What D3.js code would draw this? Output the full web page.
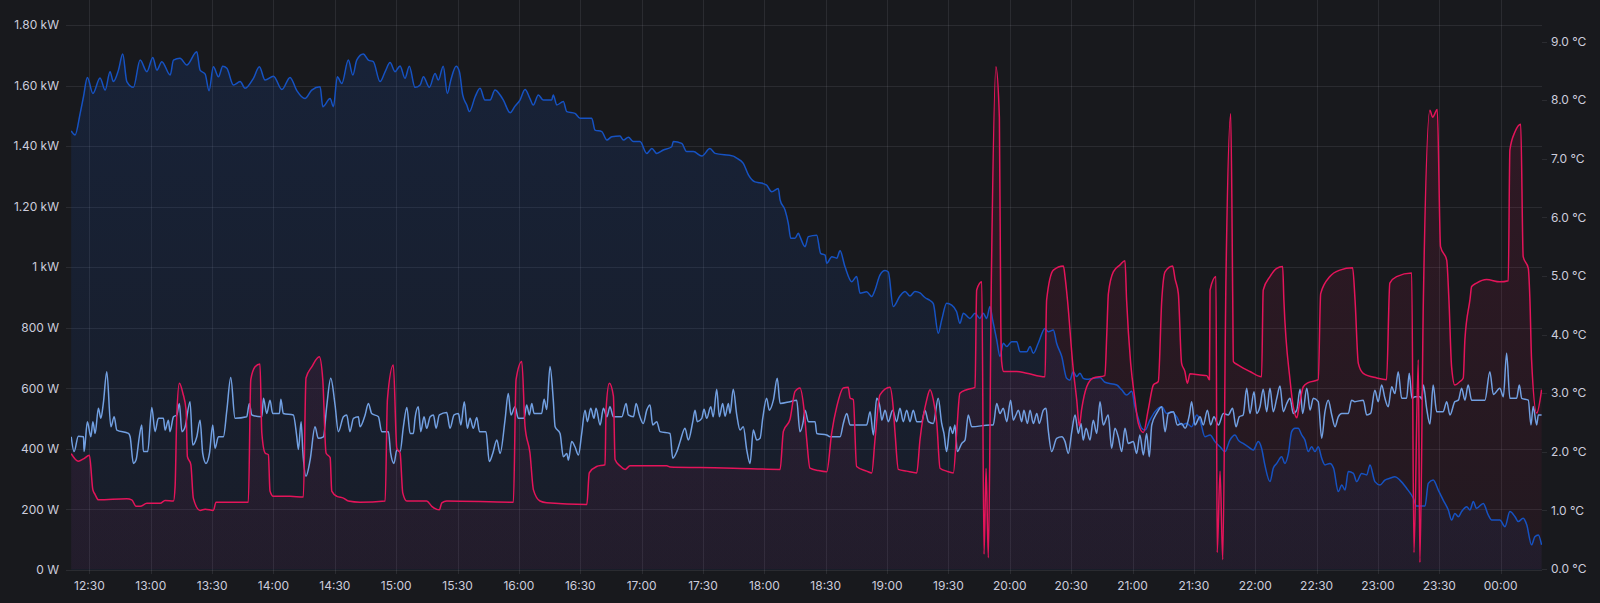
<!DOCTYPE html>
<html><head><meta charset="utf-8">
<script src="https://cdn.jsdelivr.net/npm/d3@7"></script>
<style>
html,body{margin:0;padding:0;background:#18191d;overflow:hidden;}
svg{display:block;}
text{font-family:Inter,"Noto Sans",sans-serif;}
</style></head><body>
<svg id="chart" width="1600" height="603"></svg>
<script>
// ---- data (time = minutes after 12:00) ----
const timeDomainMinutes = [21.0, 740.2];
const powerTicks = [0,200,400,600,800,1000,1200,1400,1600,1800];
const powerTickLabels = ["0 W","200 W","400 W","600 W","800 W","1 kW","1.20 kW","1.40 kW","1.60 kW","1.80 kW"];
const tempTicks = [0,1,2,3,4,5,6,7,8,9];
const tempTickLabels = ["0.0 °C","1.0 °C","2.0 °C","3.0 °C","4.0 °C","5.0 °C","6.0 °C","7.0 °C","8.0 °C","9.0 °C"];

// dark blue: power (W)
const powerA = [[21.1,1450],[23,1437],[25.5,1509],[27.1,1563],[29,1627],[31.7,1574],[35.2,1625],[37.7,1585],[40.1,1646],[41.7,1613],[44.2,1651],[46.3,1704],[48.3,1613],[51.5,1594],[54.8,1684],[58.1,1646],[61,1693],[63,1651],[65.4,1679],[69.5,1635],[71.1,1684],[74.3,1690],[77.6,1668],[82.5,1712],[84.1,1651],[86.6,1638],[88.5,1583],[90.6,1662],[93.1,1629],[95.2,1664],[97.2,1657],[100.4,1602],[103.7,1613],[106.1,1591],[110.2,1624],[113.1,1662],[115.9,1618],[120,1631],[124.1,1587],[128.1,1627],[131.4,1583],[135.4,1557],[138.7,1585],[142.8,1596],[144.1,1530],[147.7,1557],[149.3,1530],[151.2,1629],[153.4,1607],[156.6,1684],[158.8,1635],[160.7,1684],[163.9,1704],[166.4,1684],[168.8,1679],[172.1,1613],[174.6,1646],[177,1676],[179.4,1646],[181.9,1665],[184.3,1624],[186.4,1664],[189.2,1594],[191.7,1602],[193.3,1629],[196.2,1594],[199,1640],[200.6,1618],[203,1664],[205,1574],[206.7,1618],[209.3,1664],[210.9,1646],[212.5,1569],[214.5,1536],[215.8,1514],[218.6,1563],[221,1591],[223.4,1552],[225.9,1552],[228.3,1585],[230.8,1569],[232.4,1552],[235.7,1510],[238.1,1532],[240.5,1552],[243,1587],[245.4,1557],[247,1536],[249.5,1569],[251.9,1552],[256,1552],[256.8,1569],[258.5,1536],[261.7,1547],[263.4,1514],[267.4,1508],[269.9,1492],[275.6,1492],[277.2,1453],[280.5,1448],[283,1420],[285.4,1431],[289.4,1433],[291.1,1420],[293.5,1429],[296,1415],[299.2,1415],[302.5,1376],[305,1392],[307.4,1376],[310.6,1387],[314.7,1398],[315.5,1415],[319.6,1409],[322,1382],[325.3,1382],[329.4,1367],[333.4,1392],[335.9,1376],[344.8,1367],[346.5,1360],[349.7,1343],[352.2,1305],[355.4,1282],[357.9,1279],[361.1,1271],[363.6,1249],[366.8,1260],[367.7,1222],[370.1,1189],[371.7,1145],[372.9,1096],[375,1096],[376.6,1112],[377.4,1101],[379.9,1068],[381.5,1101],[385.6,1106],[387.5,1046],[389.7,1040],[390.5,1013],[393,1035],[395.4,1030],[397,1054],[399.4,1002],[402.7,952],[405.1,969],[406.8,914],[410,919],[412.5,903],[414.1,925],[416.5,974],[419,989],[420.6,984],[423,870],[426.3,905],[428.8,920],[431.2,905],[433.6,920],[436.1,915],[438.5,900],[441,890],[442.6,880],[445,782],[446.7,826],[449.1,881],[451.6,875],[454,853],[455.6,815],[457.3,848],[460.5,831],[463,848],[465.4,831],[467,848],[468.7,831],[470.3,870],[471.6,826],[473.6,760],[475.2,705],[476.8,749],[478.5,738],[480.9,754],[483.4,754],[485,721],[488.3,721],[489.9,738],[491.5,716],[493.9,749],[497.2,798],[498.8,787],[501.3,793],[502.9,749],[505.4,705],[507.8,633],[509.4,627],[511,655],[512.7,639],[514.3,650],[515.9,633],[517.6,630],[520.8,633],[524.1,636],[526.5,620],[532.3,611],[534.7,595],[537.1,578],[539.6,590],[541.2,539],[542.8,501],[544.5,468],[546.1,462],[548.5,495],[551,523],[554.3,539],[556.7,517],[559.1,523],[561.6,506],[564,479],[566.5,485],[568.9,473],[571.4,512],[573,495],[575.4,440],[577.9,446],[580.3,424],[582.8,407],[585.2,391],[587.6,429],[590.1,446],[591.7,429],[594.1,418],[596.6,407],[599,396],[601.5,424],[603.1,402],[604.7,347],[607.2,292],[608.8,336],[610.5,352],[612.9,374],[614.5,352],[616.2,385],[617.8,457],[619.4,468],[621,468],[622.7,446],[624.3,429],[625.9,391],[627.6,407],[629.2,391],[630.8,407],[632.5,369],[634.1,347],[636.5,352],[638.3,336],[640.6,259],[642.3,281],[643.9,264],[645.5,325],[648,319],[649.6,292],[652,319],[654.5,314],[656.1,347],[658.5,292],[661,281],[663.4,297],[665.8,303],[668.3,308],[670.7,297],[674,270],[677.3,237],[678.9,211],[683,211],[684.6,286],[687,297],[689.5,264],[691.9,231],[694.4,198],[696,165],[697.6,187],[699.3,176],[700.9,193],[703.4,209],[705,198],[706.6,226],[708.2,204],[711.5,220],[713.9,182],[715.6,165],[719.6,165],[722.1,143],[724.5,193],[727,176],[728.6,160],[731,171],[732.7,150],[735.1,83],[736.7,110],[738.4,116],[740,83]];

// light blue: power (W)
const powerB = [[21.1,440],[22.5,391],[24.6,442],[27.1,440],[27.4,391],[29,490],[30.7,440],[31.7,490],[32.8,451],[34.4,534],[35.6,501],[36.8,550],[38.5,655],[40.5,473],[42.1,506],[43.4,462],[49.1,451],[49.9,440],[51.5,352],[52.8,363],[54.4,440],[55.6,479],[56.4,391],[58.5,391],[60.5,537],[62.1,457],[63.7,501],[66.2,501],[67,462],[68.6,495],[69.4,457],[71.1,506],[72.7,512],[74,550],[75.2,457],[76.8,473],[79.2,556],[80.5,413],[82.5,440],[84.1,495],[85.4,385],[87,352],[88.7,385],[90.3,479],[91.4,402],[93.1,440],[95.5,440],[97.2,528],[99.1,636],[101.2,501],[106.9,506],[108.2,550],[109.4,512],[114.3,506],[115.1,567],[116.7,517],[118.3,561],[119.6,517],[122.9,517],[123.6,564],[124.8,517],[129.7,512],[131.4,440],[132.2,398],[133.5,490],[134.3,396],[135.9,310],[137.9,363],[140.3,473],[141.9,435],[144.4,440],[146,539],[148,633],[150.1,545],[151.7,457],[154.2,506],[155.8,512],[157.4,457],[159.1,501],[161.5,506],[162.3,473],[164.8,512],[166.4,550],[168,517],[171.3,506],[172.9,457],[176.2,457],[177.3,385],[178.9,352],[180.3,396],[181.9,391],[183.5,473],[185.2,537],[186.8,451],[188.4,451],[189.2,501],[190.8,539],[192,457],[193.6,506],[194.9,468],[196.6,506],[198.2,512],[199.5,468],[201.1,512],[204.7,520],[206.3,468],[208.3,512],[210.4,517],[211.6,479],[213.3,556],[214.8,468],[216.1,501],[217.7,468],[219.4,504],[220.7,457],[223.9,457],[225.5,358],[227.2,385],[229.2,429],[230.8,385],[233.2,495],[234.8,583],[236.1,512],[238.1,539],[239.7,501],[242.5,501],[243.8,545],[245.1,512],[246.3,550],[247.4,517],[251.1,517],[252.3,564],[253.6,530],[255.2,672],[256.8,561],[257.7,473],[260.1,451],[261.7,374],[263.4,385],[264.2,363],[265.8,424],[267.4,407],[269.1,380],[270.7,451],[272.3,528],[273.5,490],[275.1,534],[276.7,501],[277.7,534],[279.7,479],[281.3,534],[283,506],[284.5,539],[286.2,506],[290.3,506],[292.4,550],[293.5,512],[296,506],[297.3,550],[298.9,512],[300.8,484],[302.5,528],[304.1,545],[305.4,479],[307.4,490],[309,457],[313.9,451],[315.2,369],[317.2,391],[318.8,424],[321.2,468],[322.8,429],[325,490],[326.1,528],[327.2,490],[329.4,501],[330.5,531],[331.8,501],[333.8,539],[335,506],[336.7,597],[338,506],[339.6,550],[340.8,508],[342.4,550],[343.2,517],[344.8,597],[346.5,512],[348.1,462],[349.7,473],[351.4,396],[353,352],[354.6,462],[356.3,429],[357.9,435],[359.2,501],[361.1,567],[362.4,528],[364.4,561],[366.3,633],[367.7,550],[372.5,556],[375.8,561],[377.4,457],[379,490],[379.9,528],[381.5,490],[384.8,490],[385.6,451],[390.5,446],[392.1,440],[397,440],[398.6,484],[400.3,517],[401.9,479],[410,479],[411.7,523],[413.3,446],[414.9,567],[416.5,539],[417.4,495],[419,528],[420.6,490],[422.7,528],[424.7,490],[426.3,534],[427.9,490],[429.6,528],[431.2,490],[432.8,528],[434.5,490],[436.9,490],[438.5,528],[440.2,490],[442.6,484],[445,567],[446.7,484],[447.8,451],[449.1,391],[450.8,473],[452.1,451],[453.2,479],[454.3,391],[456.5,418],[458.1,429],[459.7,512],[461.4,473],[470.3,479],[471.9,479],[473.6,550],[475.2,517],[476.8,534],[478.5,490],[480.4,561],[481.7,495],[483,512],[484.2,528],[485.8,490],[486.9,528],[488.6,484],[489.9,528],[491.5,484],[493.2,517],[494.4,484],[496.4,528],[497.7,534],[498.8,462],[500.5,391],[502.9,435],[505.4,440],[507,424],[508.6,385],[510.3,457],[511.9,512],[513.5,451],[514.8,484],[515.9,429],[517.3,468],[519.2,429],[520.8,495],[522.5,451],[524.1,556],[525.7,479],[528.1,512],[529.8,402],[531.4,468],[533,440],[534.7,391],[536.3,468],[537.9,418],[540.4,424],[542,385],[543.6,446],[545.3,380],[546.9,451],[548.2,374],[549.4,479],[551.8,517],[554.3,539],[555.9,457],[557.5,517],[560,523],[561.9,479],[564,484],[565.7,468],[567.8,512],[568.9,556],[570.5,479],[573,506],[574.6,479],[576.6,528],[578.2,479],[579.8,506],[582,479],[584.4,517],[586.8,512],[588.9,534],[590.6,473],[592.2,506],[594.1,512],[595.8,600],[597.4,517],[599.4,589],[600.7,517],[602.3,539],[603.9,597],[605.6,523],[607.2,600],[608.8,523],[610.5,567],[612.1,608],[613.7,523],[615.4,550],[617,567],[618.6,517],[620.3,528],[621.9,597],[623.2,517],[625.2,600],[626.8,528],[628.4,567],[630.8,556],[632.5,435],[634.1,523],[635.7,561],[637.4,512],[639,473],[640.6,506],[642.3,517],[645.5,517],[647.1,561],[648.7,556],[652.8,561],[654.5,512],[656.4,517],[658.5,594],[660.1,556],[661.8,611],[663.4,567],[665,539],[666.7,605],[668.3,583],[669.9,655],[671.6,567],[674,567],[675.3,650],[676.6,567],[678.1,572],[680.6,572],[681.4,564],[682.2,611],[683.8,534],[685.4,482],[687,611],[688.7,523],[691.9,523],[693.6,556],[695.2,512],[697.6,556],[699.3,561],[700.9,600],[702.5,561],[704.1,611],[705.8,561],[710.7,561],[712.3,561],[714.7,655],[716.4,580],[719.6,600],[721.3,572],[722.9,716],[724.5,567],[727.8,567],[729.1,611],[730.3,567],[733.5,561],[734.8,479],[735.9,540],[737.6,479],[738.4,512],[740,512]];

// red: temperature (°C)
const tempC = [[21.1,1.97],[24.6,1.84],[27.1,1.88],[30,1.94],[31.7,1.35],[32.8,1.27],[34.4,1.18],[48.3,1.2],[50.7,1.18],[52.8,1.07],[54.8,1.07],[58.1,1.12],[64.6,1.12],[67,1.17],[71.1,1.16],[71.9,1.41],[72.7,2.6],[74,3.17],[75.7,3.0],[77.3,2.7],[77.9,1.92],[79.6,1.78],[80.8,1.21],[84.1,1.0],[86.6,1.02],[90.6,1.0],[91.9,1.14],[107.7,1.14],[108.9,3.23],[111,3.45],[113.4,3.5],[114.3,2.32],[115.9,1.98],[117.5,1.95],[118.3,1.33],[119.9,1.24],[128.1,1.24],[134.6,1.23],[135.9,3.26],[138.7,3.45],[142.4,3.62],[144.1,3.23],[145.7,1.98],[147.7,1.9],[148.5,1.33],[151,1.24],[154.2,1.21],[156.6,1.16],[162.3,1.14],[174.6,1.16],[175.7,2.89],[178.6,3.48],[180.3,2.06],[181.9,1.98],[183.2,1.3],[185.2,1.16],[194.9,1.16],[197.4,1.07],[201.1,1.01],[202.3,1.13],[204.7,1.16],[237.3,1.14],[238.6,3.23],[241.4,3.54],[243,2.43],[245.4,1.98],[247.1,1.35],[250.3,1.16],[253.6,1.13],[273.2,1.1],[274.4,1.64],[278,1.75],[282.1,1.78],[282.6,2.72],[284.2,3.17],[286.2,2.95],[287,1.87],[289.4,1.76],[291.9,1.7],[294.3,1.76],[312.3,1.76],[313.9,1.74],[328.5,1.73],[344.8,1.72],[367.7,1.7],[369.3,2.35],[372.5,2.55],[375,3.03],[377.4,3.09],[379.4,2.72],[380.7,2.21],[382.3,1.72],[386.4,1.68],[390.5,1.66],[392.9,2.32],[395.4,2.77],[398.6,3.09],[401,3.1],[401.9,2.92],[403.5,2.89],[405.1,1.75],[410,1.67],[412.5,1.64],[414.1,2.21],[416.5,2.97],[421.4,3.1],[423,2.75],[423.9,2.32],[425.5,1.7],[429.6,1.67],[434.5,1.64],[436.1,2.21],[439.4,2.89],[441,3.06],[442.6,2.89],[444.3,2.49],[445.9,1.72],[449.1,1.67],[452.4,1.64],[454,2.32],[455.6,3.0],[458.9,3.06],[463,3.1],[463.8,4.76],[466.3,4.9],[467.4,0.25],[468.4,1.72],[469.5,0.19],[471,5.0],[473.2,8.57],[474.9,7.71],[475.6,4.2],[476,3.54],[477,3.37],[483.4,3.37],[488.3,3.34],[497.2,3.28],[498,4.59],[501.3,5.1],[506.2,5.17],[507,4.99],[508.2,4.59],[510.9,3.45],[512.7,2.89],[514,2.44],[515.1,2.72],[517.6,3.11],[520.8,3.26],[526.5,3.3],[527.4,4.0],[528.2,4.7],[530.6,5.07],[533.9,5.19],[536.3,5.26],[537.1,4.59],[539.1,3.51],[541.2,2.89],[542.8,2.49],[545.3,2.33],[547.7,2.72],[550.2,3.14],[552.6,3.2],[554.3,4.59],[555.9,5.07],[559.6,5.17],[560.8,4.95],[562.4,4.7],[564,3.51],[565.6,3.37],[566.8,3.17],[568.1,3.33],[573,3.31],[576.3,3.3],[577.6,3.23],[577.9,4.76],[580.8,4.99],[581.4,0.28],[582.8,1.67],[584.1,0.16],[585.7,5.0],[588,7.77],[589,4.59],[589.3,3.54],[591.7,3.48],[597.4,3.37],[603.1,3.28],[603.9,4.76],[607.2,4.99],[610.5,5.13],[613.4,5.16],[614,4.59],[617,3.23],[618.6,2.77],[620.3,2.58],[621.4,2.77],[623.5,3.11],[625.9,3.18],[630.8,3.23],[632,4.7],[636.5,4.99],[641.4,5.1],[647.6,5.14],[648.8,4.59],[650.4,3.51],[652.8,3.34],[659.4,3.26],[664.2,3.23],[665.8,4.88],[669.1,4.99],[676.5,5.05],[677.6,0.28],[679.7,3.57],[680.5,0.11],[682.2,4.59],[685.4,7.83],[686.7,7.71],[689,7.84],[690.6,5.5],[693.6,5.27],[694.7,4.59],[696,3.45],[697.6,3.14],[700.1,3.2],[701.7,3.26],[702.5,3.91],[705,4.6],[705.8,4.82],[708.2,4.88],[713.1,4.94],[719.6,4.9],[723.7,4.92],[724.5,7.15],[727,7.46],[729.8,7.59],[731,5.33],[733.5,5.13],[734.3,4.59],[735.1,3.57],[737.6,2.66],[740,3.06]];

// ---- drawing ----
(function () {
const W = 1600, H = 603;
const pL = 71, pR = 1542, pT = 0, pB = 570;
const base = new Date(2024, 0, 1, 12, 0, 0);
const toDate = m => new Date(base.getTime() + m * 60000);

const x = d3.scaleTime().domain(timeDomainMinutes.map(toDate)).range([pL, pR]);
const yP = d3.scaleLinear().domain([0, 1800]).range([570, 25]);
const yT = d3.scaleLinear().domain([0, 9]).range([569, 41.6]);

const svg = d3.select("#chart");
svg.append("rect").attr("width", W).attr("height", H).attr("fill", "#18191d");

const defs = svg.append("defs");
function grad(id, color, o1, o2) {
  const g = defs.append("linearGradient").attr("id", id)
    .attr("gradientUnits", "userSpaceOnUse").attr("x1", 0).attr("x2", 0).attr("y1", pT).attr("y2", pB);
  g.append("stop").attr("offset", 0).attr("stop-color", color).attr("stop-opacity", o1);
  g.append("stop").attr("offset", 1).attr("stop-color", color).attr("stop-opacity", o2);
}
const cDark = "#1652c2", cLight = "#72a0e2", cRed = "#e4145a";
grad("gA", cDark, 0.17, 0.07);
grad("gT", cRed, 0.13, 0.05);

const gridColor = "rgba(204,204,220,0.1)";
const textColor = "rgb(204,204,220)";

const tTicks = x.ticks(d3.timeMinute.every(30));
svg.append("g").selectAll("line").data(tTicks).join("line")
  .attr("x1", d => Math.round(x(d)) + 0.5).attr("x2", d => Math.round(x(d)) + 0.5)
  .attr("y1", pT).attr("y2", pB + 4)
  .attr("stroke", gridColor).attr("stroke-width", 1);
svg.append("g").selectAll("line").data(powerTicks).join("line")
  .attr("x1", pL - 5).attr("x2", pR)
  .attr("y1", d => Math.round(yP(d)) + 0.5).attr("y2", d => Math.round(yP(d)) + 0.5)
  .attr("stroke", gridColor).attr("stroke-width", 1);
svg.append("g").selectAll("line").data(tempTicks).join("line")
  .attr("x1", pR).attr("x2", pR + 5)
  .attr("y1", d => Math.round(yT(d)) + 0.5).attr("y2", d => Math.round(yT(d)) + 0.5)
  .attr("stroke", gridColor).attr("stroke-width", 1);

svg.append("g").selectAll("text").data(powerTicks).join("text")
  .attr("x", 59).attr("y", d => yP(d)).attr("dy", "0.35em")
  .attr("text-anchor", "end").attr("fill", textColor).attr("font-size", 12)
  .text((d, i) => powerTickLabels[i]);
svg.append("g").selectAll("text").data(tempTicks).join("text")
  .attr("x", 1551).attr("y", d => yT(d)).attr("dy", "0.35em")
  .attr("text-anchor", "start").attr("fill", textColor).attr("font-size", 12)
  .text((d, i) => tempTickLabels[i]);
const fmt = d3.timeFormat("%H:%M");
svg.append("g").selectAll("text").data(tTicks).join("text")
  .attr("x", d => x(d)).attr("y", 586).attr("dy", "0.35em")
  .attr("text-anchor", "middle").attr("fill", textColor).attr("font-size", 12)
  .text(d => fmt(d));

const curve = d3.curveMonotoneX;
const clip = defs.append("clipPath").attr("id", "plotClip");
clip.append("rect").attr("x", pL).attr("y", pT).attr("width", pR - pL).attr("height", pB - pT);
const plot = svg.append("g").attr("clip-path", "url(#plotClip)");

const areaP = d3.area().x(d => x(toDate(d[0]))).y0(yP(0)).y1(d => yP(d[1])).curve(curve);
const lineP = d3.line().x(d => x(toDate(d[0]))).y(d => yP(d[1])).curve(curve);
const areaT = d3.area().x(d => x(toDate(d[0]))).y0(yT(0)).y1(d => yT(d[1])).curve(curve);
const lineT = d3.line().x(d => x(toDate(d[0]))).y(d => yT(d[1])).curve(curve);

plot.append("path").datum(powerA).attr("d", areaP).attr("fill", "url(#gA)");
plot.append("path").datum(tempC).attr("d", areaT).attr("fill", "url(#gT)");
plot.append("path").datum(powerA).attr("d", lineP).attr("fill", "none").attr("stroke", cDark).attr("stroke-width", 1.5).attr("stroke-linejoin", "round");
plot.append("path").datum(powerB).attr("d", lineP).attr("fill", "none").attr("stroke", cLight).attr("stroke-width", 1.5).attr("stroke-linejoin", "round");
plot.append("path").datum(tempC).attr("d", lineT).attr("fill", "none").attr("stroke", cRed).attr("stroke-width", 1.5).attr("stroke-linejoin", "round");
})();
</script>
</body></html>
